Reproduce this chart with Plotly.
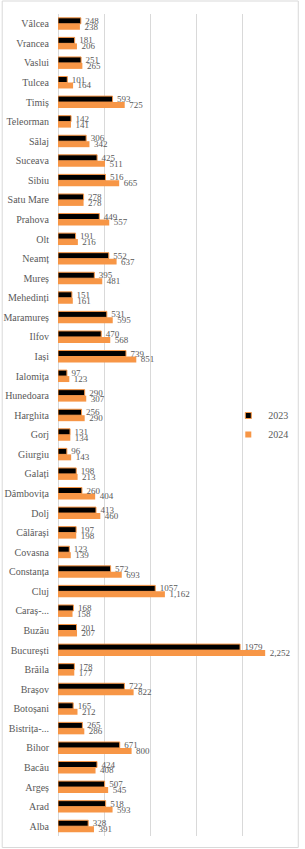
import plotly.graph_objects as go

counties = ["Alba", "Arad", "Argeș", "Bacău", "Bihor", "Bistrița-...", "Botoșani", "Brașov", "Brăila",
            "București", "Buzău", "Caraș-...", "Cluj", "Constanța", "Covasna", "Călărași", "Dolj",
            "Dâmbovița", "Galați", "Giurgiu", "Gorj", "Harghita", "Hunedoara", "Ialomița", "Iași",
            "Ilfov", "Maramureș", "Mehedinți", "Mureș", "Neamț", "Olt", "Prahova", "Satu Mare",
            "Sibiu", "Suceava", "Sălaj", "Teleorman", "Timiș", "Tulcea", "Vaslui", "Vrancea", "Vâlcea"]
v2023 = [328, 518, 507, 424, 671, 265, 165, 722, 178,
         1979, 201, 168, 1057, 572, 123, 197, 413,
         260, 198, 96, 131, 256, 290, 97, 739,
         470, 531, 151, 395, 552, 191, 449, 278,
         516, 425, 306, 142, 593, 101, 251, 181, 248]
v2024 = [391, 593, 545, 408, 800, 286, 212, 822, 177,
         2252, 207, 158, 1162, 693, 139, 198, 460,
         404, 213, 143, 134, 290, 307, 123, 851,
         568, 595, 161, 481, 637, 216, 557, 278,
         665, 511, 342, 141, 725, 164, 265, 206, 238]
series_names = ["2023", "2024"]

ORANGE = "#F79646"
GRAY_TXT = "#595959"
FONT = "Liberation Serif"

labels2023 = ["  " + str(v) for v in v2023]
labels2024 = ["  " + f"{v:,}" for v in v2024]

fig = go.Figure()
fig.add_trace(go.Bar(
    y=counties, x=v2024, orientation="h", name=series_names[1],
    marker=dict(color=ORANGE, line=dict(width=0)),
    text=labels2024, textposition="outside", constraintext="none", cliponaxis=False,
    textfont=dict(family=FONT, size=9, color=GRAY_TXT), showlegend=False,
))
fig.add_trace(go.Bar(
    y=counties, x=v2023, orientation="h", name=series_names[0],
    marker=dict(color="black", line=dict(width=1, color=ORANGE)),
    text=labels2023, textposition="outside", constraintext="none", cliponaxis=False,
    textfont=dict(family=FONT, size=9, color=GRAY_TXT), showlegend=False,
))
# legend entries
fig.add_trace(go.Scatter(x=[None], y=[None], mode="markers", name=series_names[0],
                         marker=dict(symbol="square", size=6, color="black", line=dict(width=1, color=ORANGE))))
fig.add_trace(go.Scatter(x=[None], y=[None], mode="markers", name=series_names[1],
                         marker=dict(symbol="square", size=6, color=ORANGE)))

L, R, T, B = 58, 12, 14, 13
W, H = 305, 849
pw, ph = W - L - R, H - T - B

fig.update_layout(
    width=W, height=H,
    margin=dict(l=L, r=R, t=T, b=B),
    paper_bgcolor="white", plot_bgcolor="white",
    barmode="group", bargap=0.39, bargroupgap=0,
    font=dict(family=FONT, color=GRAY_TXT, size=10),
    legend=dict(x=(232 - L) / pw, y=(H - B - 401) / ph, xanchor="left", yanchor="top",
                bgcolor="rgba(0,0,0,0)", font=dict(family=FONT, size=10, color=GRAY_TXT),
                itemwidth=30, tracegroupgap=0),
    xaxis=dict(range=[0, 2500], dtick=500, showticklabels=False, showgrid=True,
               gridcolor="#D9D9D9", gridwidth=1, zeroline=True, zerolinecolor="#D9D9D9",
               zerolinewidth=1, showline=False, ticks=""),
    yaxis=dict(type="category", categoryorder="array", categoryarray=counties,
               showgrid=False, showline=False, ticks="outside", ticklen=6,
               tickcolor="rgba(0,0,0,0)",
               tickfont=dict(family=FONT, size=10, color=GRAY_TXT), automargin=False),
    shapes=[dict(type="rect", xref="paper", yref="paper",
                 x0=(1 - L) / pw, x1=(W - 1.5 - L) / pw,
                 y0=(H - B - (H - 1.5)) / ph, y1=(H - B - 1) / ph,
                 line=dict(color="#D9D9D9", width=1), fillcolor="rgba(0,0,0,0)")],
)

fig.write_html("out.html")
